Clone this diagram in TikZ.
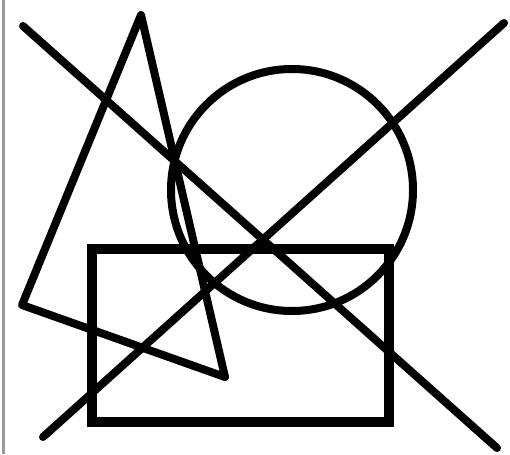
\documentclass[tikz,border=0pt]{standalone}
\begin{document}
\begin{tikzpicture}[x=1pt,y=-1pt,
  stroke/.style={line width=8pt,line cap=round,line join=round,black},
  boxstroke/.style={line width=10pt,line join=miter,black}]
\useasboundingbox (0,0) rectangle (510,454);
\fill[white] (0,0) rectangle (510,454);
\draw[gray!80,line width=3pt] (3.5,0) -- (3.5,454);
% rectangle
\draw[boxstroke] (92,249) rectangle (389,422);
% circle
\draw[stroke] (292,190) circle (121);
% triangle
\draw[stroke] (141,15) -- (22,305) -- (225,377) -- cycle;
% diagonals
\draw[stroke] (23,26) -- (497,448);
\draw[stroke] (43,437) -- (504,23);
\end{tikzpicture}
\end{document}
